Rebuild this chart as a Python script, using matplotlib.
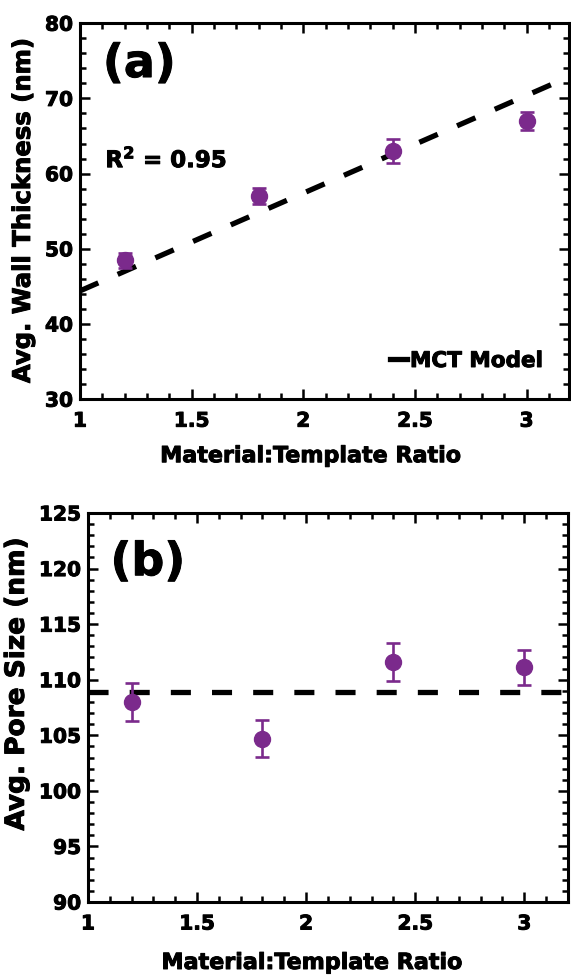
import matplotlib
matplotlib.use("Agg")
import matplotlib.pyplot as plt
import matplotlib.patheffects as pe
from matplotlib.ticker import MultipleLocator
from matplotlib.lines import Line2D

plt.rcParams['font.family'] = ['DejaVu Sans']
plt.rcParams['font.weight'] = 'bold'
plt.rcParams['mathtext.default'] = 'bf'

# Material:Template ratios
ratio = [1.2, 1.8, 2.4, 3.0]

# (a) wall thickness
wall = [48.5, 57.0, 63.0, 67.0]
wall_err = [1.0, 1.1, 1.6, 1.2]
model_x = [1.0, 3.2]
model_wall = [44.4, 73.0]
r2_text = "R$^\\mathbf{2}$ = 0.95"

# (b) pore size
pore = [108.0, 104.7, 111.6, 111.1]
pore_err = [1.7, 1.65, 1.7, 1.6]
model_pore = [108.9, 108.9]

purple = '#7b2a8c'
dash = (0, (3.8, 4.0))
heavy = [pe.withStroke(linewidth=0.7, foreground='black')]


def style_axes(ax, xmaj, xmin, ymaj, ymin):
    ax.xaxis.set_major_locator(MultipleLocator(xmaj))
    ax.xaxis.set_minor_locator(MultipleLocator(xmin))
    ax.yaxis.set_major_locator(MultipleLocator(ymaj))
    ax.yaxis.set_minor_locator(MultipleLocator(ymin))
    ax.tick_params(which='both', direction='in', top=True, right=True,
                   width=1.8, labelsize=14.5)
    ax.tick_params(which='major', length=7.5)
    ax.tick_params(which='minor', length=4.5)
    ax.tick_params(axis='x', which='major', pad=9)
    ax.tick_params(axis='y', which='major', pad=5)
    for s in ax.spines.values():
        s.set_linewidth(2.2)
    ax.xaxis.set_major_formatter(plt.FuncFormatter(lambda v, p: f"{v:g}"))
    for lab in ax.get_xticklabels() + ax.get_yticklabels():
        lab.set_fontweight('bold')
        lab.set_path_effects(heavy)


fig = plt.figure(figsize=(5.71, 9.76), dpi=100)

# ---- (a) ----
ax1 = fig.add_axes([0.140, 0.591, 0.8565, 0.3852])
ax1.plot(model_x, model_wall, color='black', lw=3.8, linestyle=dash)
ax1.errorbar(ratio, wall, yerr=wall_err, fmt='o', color=purple, ms=11.5,
             elinewidth=1.9, capsize=5, capthick=1.9)
ax1.set_xlim(1, 3.19)
ax1.set_ylim(30, 80)
style_axes(ax1, 0.5, 0.1, 10, 2)
ax1.set_xlabel('Material:Template Ratio', fontsize=16, fontweight='bold',
               path_effects=heavy)
ax1.set_ylabel('Avg. Wall Thickness (nm)', fontsize=17.5, fontweight='bold',
               path_effects=heavy)
ax1.xaxis.set_label_coords(0.472, -0.125)
ax1.yaxis.set_label_coords(-0.092, 0.5)
ax1.text(0.047, 0.95, '(a)', transform=ax1.transAxes, fontsize=33,
         fontweight='bold', va='top', ha='left', path_effects=heavy)
ax1.text(0.052, 0.637, r2_text, transform=ax1.transAxes, fontsize=16.5,
         fontweight='bold', va='center', ha='left', path_effects=heavy)
handle = Line2D([], [], color='black', lw=3.8)
leg = ax1.legend([handle], ['MCT Model'], loc='lower right', frameon=False,
                 handlelength=0.8, handletextpad=0.12, borderpad=0,
                 borderaxespad=0, bbox_to_anchor=(0.947, 0.075),
                 prop={'weight': 'bold', 'size': 15.5})
for t in leg.get_texts():
    t.set_path_effects(heavy)

# ---- (b) ----
ax2 = fig.add_axes([0.154, 0.0758, 0.8406, 0.3986])
ax2.plot(model_x, model_pore, color='black', lw=3.8, linestyle=dash)
ax2.errorbar(ratio, pore, yerr=pore_err, fmt='o', color=purple, ms=11.5,
             elinewidth=1.9, capsize=5, capthick=1.9)
ax2.set_xlim(1, 3.2)
ax2.set_ylim(90, 125)
style_axes(ax2, 0.5, 0.1, 5, 1)
ax2.set_xlabel('Material:Template Ratio', fontsize=16, fontweight='bold',
               path_effects=heavy)
ax2.set_ylabel('Avg. Pore Size (nm)', fontsize=19, fontweight='bold',
               path_effects=heavy)
ax2.xaxis.set_label_coords(0.467, -0.131)
ax2.yaxis.set_label_coords(-0.121, 0.56)
ax2.text(0.047, 0.93, '(b)', transform=ax2.transAxes, fontsize=33,
         fontweight='bold', va='top', ha='left', path_effects=heavy)

fig.savefig('out.png', dpi=100)
